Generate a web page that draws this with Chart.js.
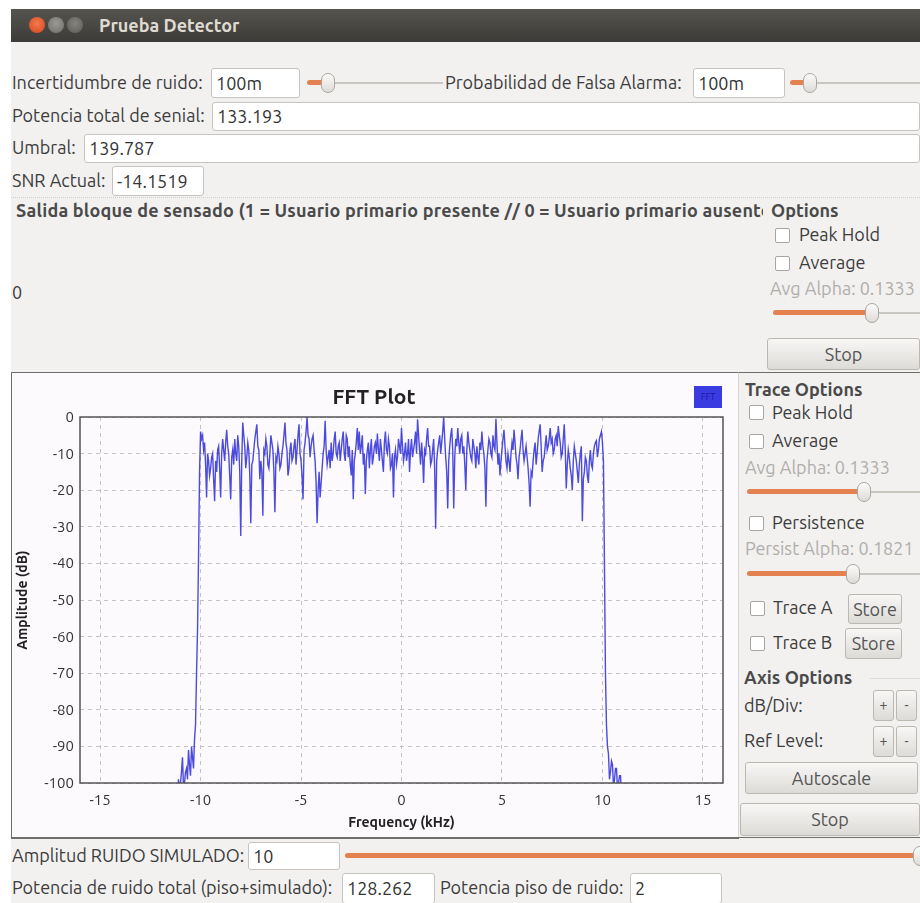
<!DOCTYPE html>
<html>
<head>
<meta charset="utf-8">
<title>Prueba Detector</title>
<script src="https://cdn.jsdelivr.net/npm/chart.js@4.4.1/dist/chart.umd.min.js"></script>
<style>
  html, body { margin: 0; padding: 0; }
  body { width: 920px; height: 903px; position: relative; overflow: hidden; background: #fff;
         font-family: "Ubuntu", "Open Sans", sans-serif; font-size: 18px; color: #3c3c3c; }
  .win { position: absolute; left: 11px; top: 9px; width: 909px; height: 894px; background: #f2f1f0; }
  .titlebar { position: absolute; left: 11px; top: 9px; width: 909px; height: 33px;
              background: linear-gradient(#55544f, #3c3b37); }
  .dot { position: absolute; width: 16px; height: 16px; border-radius: 50%; top: 17px; }
  .ttl { position: absolute; left: 99px; top: 9px; line-height: 33px; font-weight: bold; font-size: 18px; color: #dfdbd2; }
  .lbl { position: absolute; white-space: nowrap; line-height: 1.2; transform: translateY(-50%); }
  .tb { position: absolute; box-sizing: border-box; background: #fff; border: 1px solid #c7c4bf;
        border-radius: 3px; padding-left: 4px; color: #333; white-space: nowrap; }
  .slider { position: absolute; height: 20px; }
  .slider .track { position: absolute; left: 0; right: 0; top: 9px; height: 2px; background: #c9c6c1; }
  .slider .fill { position: absolute; left: 0; top: 7px; height: 5px; border-radius: 3px; background: #e5804f; }
  .slider .thumb { position: absolute; top: 0; width: 14px; height: 20px; margin-left: -7px; box-sizing: border-box;
                   border: 1px solid #aaa6a0; border-radius: 7px; background: linear-gradient(#fbfbfa, #dedcd8); }
  .chk { position: absolute; width: 15px; height: 15px; box-sizing: border-box; background: #fff;
         border: 1px solid #a9a6a1; border-radius: 2px; }
  .btn { position: absolute; box-sizing: border-box; border: 1px solid #bbb8b2; border-radius: 3px;
         background: linear-gradient(#f8f7f6, #dddbd7); text-align: center; color: #555; }
  .bold { font-weight: bold; color: #4a4a4a; }
  .grey { color: #b0aeaa; }
</style>
</head>
<body>
<div class="win"></div>
<div class="titlebar"></div>
<div class="dot" style="left:29px;background:radial-gradient(circle at 50% 40%,#f47a4f,#d2461c);"></div>
<div class="dot" style="left:48px;background:radial-gradient(circle at 50% 40%,#9c9a94,#6e6c67);"></div>
<div class="dot" style="left:67px;background:radial-gradient(circle at 50% 40%,#85837e,#5c5b57);"></div>
<div class="ttl">Prueba Detector</div>

<!-- controls, first rows -->
<div class="lbl" style="left:12px;top:83px;">Incertidumbre de ruido:</div>
<div class="tb" style="left:211px;top:68px;width:89px;height:30px;line-height:28px;">100m</div>
<div class="slider" style="left:307px;top:73px;width:136px;"><div class="track"></div><div class="fill" style="width:18px"></div><div class="thumb" style="left:21px"></div></div>
<div class="lbl" style="left:445px;top:83px;">Probabilidad de Falsa Alarma:</div>
<div class="tb" style="left:693px;top:68px;width:92px;height:30px;line-height:28px;">100m</div>
<div class="slider" style="left:790px;top:73px;width:130px;"><div class="track"></div><div class="fill" style="width:17px"></div><div class="thumb" style="left:20px"></div></div>

<div class="lbl" style="left:12px;top:116px;">Potencia total de senial:</div>
<div class="tb" style="left:212px;top:102px;width:708px;height:29px;line-height:27px;">133.193</div>
<div class="lbl" style="left:12px;top:148px;">Umbral:</div>
<div class="tb" style="left:84px;top:134px;width:836px;height:29px;line-height:27px;">139.787</div>
<div class="lbl" style="left:12px;top:181px;">SNR Actual:</div>
<div class="tb" style="left:112px;top:166px;width:92px;height:30px;line-height:28px;">-14.1519</div>

<!-- sensing output panel -->
<div style="position:absolute;left:11px;top:197px;width:909px;height:0;border-top:1px dotted #d2d0cc;"></div>
<div class="lbl bold" style="left:16px;top:211px;width:747px;overflow:hidden;letter-spacing:0.2px;">Salida bloque de sensado (1 = Usuario primario presente // 0 = Usuario primario ausente)</div>
<div class="lbl" style="left:12px;top:293px;">0</div>
<div class="lbl bold" style="left:771px;top:211px;">Options</div>
<div class="chk" style="left:775px;top:228px;"></div>
<div class="lbl" style="left:799px;top:235px;">Peak Hold</div>
<div class="chk" style="left:775px;top:256px;"></div>
<div class="lbl" style="left:799px;top:263px;">Average</div>
<div class="lbl grey" style="left:770px;top:289px;">Avg Alpha: 0.1333</div>
<div class="slider" style="left:773px;top:303px;width:147px;"><div class="track"></div><div class="fill" style="width:94px"></div><div class="thumb" style="left:99px"></div></div>
<div class="btn" style="left:767px;top:338px;width:153px;height:32px;line-height:30px;">Stop</div>

<!-- FFT panel -->
<div style="position:absolute;left:11px;top:372px;width:727px;height:465px;background:#fdfafd;border:1px solid #6e6d6a;border-right:none;"></div>
<canvas id="fft" width="727" height="464" style="position:absolute;left:11px;top:374px;"></canvas>
<div class="lbl" style="left:374px;top:397px;transform:translate(-50%,-50%);font-weight:bold;font-size:21px;color:#222;">FFT Plot</div>
<div style="position:absolute;left:694px;top:386px;width:28px;height:22px;background:#3b3be2;color:#1a1a9a;font-size:9px;line-height:22px;text-align:center;">FFT</div>

<!-- trace options panel -->
<div style="position:absolute;left:738px;top:372px;width:182px;height:466px;border-top:1px solid #6e6d6a;box-sizing:border-box;border-left:1px solid #d8d6d2;"></div>
<div class="lbl bold" style="left:745px;top:390px;">Trace Options</div>
<div class="chk" style="left:749px;top:405px;"></div>
<div class="lbl" style="left:772px;top:413px;">Peak Hold</div>
<div class="chk" style="left:749px;top:434px;"></div>
<div class="lbl" style="left:772px;top:441px;">Average</div>
<div class="lbl grey" style="left:745px;top:468px;">Avg Alpha: 0.1333</div>
<div class="slider" style="left:747px;top:482px;width:173px;"><div class="track"></div><div class="fill" style="width:112px"></div><div class="thumb" style="left:117px"></div></div>
<div class="chk" style="left:749px;top:516px;"></div>
<div class="lbl" style="left:772px;top:523px;">Persistence</div>
<div class="lbl grey" style="left:745px;top:549px;">Persist Alpha: 0.1821</div>
<div class="slider" style="left:747px;top:564px;width:173px;"><div class="track"></div><div class="fill" style="width:101px"></div><div class="thumb" style="left:106px"></div></div>
<div class="chk" style="left:750px;top:601px;"></div>
<div class="lbl" style="left:773px;top:608px;">Trace A</div>
<div class="btn" style="left:848px;top:594px;width:54px;height:30px;line-height:28px;">Store</div>
<div class="chk" style="left:750px;top:636px;"></div>
<div class="lbl" style="left:773px;top:643px;">Trace B</div>
<div class="btn" style="left:845px;top:628px;width:57px;height:31px;line-height:29px;">Store</div>
<div class="lbl bold" style="left:744px;top:678px;">Axis Options</div>
<div style="position:absolute;left:870px;top:678px;width:50px;border-top:1px solid #dedcd8;"></div>
<div class="lbl" style="left:744px;top:706px;">dB/Div:</div>
<div class="btn" style="left:873px;top:690px;width:21px;height:31px;line-height:29px;font-size:14px;">+</div>
<div class="btn" style="left:896px;top:690px;width:21px;height:31px;line-height:29px;font-size:14px;">-</div>
<div class="lbl" style="left:744px;top:741px;">Ref Level:</div>
<div class="btn" style="left:873px;top:726px;width:21px;height:31px;line-height:29px;font-size:14px;">+</div>
<div class="btn" style="left:896px;top:726px;width:21px;height:31px;line-height:29px;font-size:14px;">-</div>
<div class="btn" style="left:745px;top:762px;width:173px;height:32px;line-height:30px;">Autoscale</div>
<div class="btn" style="left:740px;top:803px;width:180px;height:33px;line-height:31px;">Stop</div>

<!-- bottom rows -->
<div style="position:absolute;left:11px;top:837px;width:909px;border-top:1px solid #6e6d6a;"></div>
<div class="lbl" style="left:12px;top:856px;">Amplitud RUIDO SIMULADO:</div>
<div class="tb" style="left:248px;top:842px;width:92px;height:28px;line-height:26px;">10</div>
<div class="slider" style="left:345px;top:846px;width:590px;"><div class="track"></div><div class="fill" style="width:570px"></div><div class="thumb" style="left:575px"></div></div>
<div class="lbl" style="left:12px;top:888px;">Potencia de ruido total (piso+simulado):</div>
<div class="tb" style="left:342px;top:873px;width:93px;height:31px;line-height:29px;">128.262</div>
<div class="lbl" style="left:440px;top:888px;">Potencia piso de ruido:</div>
<div class="tb" style="left:630px;top:873px;width:92px;height:31px;line-height:29px;">2</div>

<script>
'use strict';

// FFT bins: first bin frequency and spacing (kHz)
const binStartKHz = -11.2;
const binStepKHz  = 0.05;

// amplitude per bin (dB); values under -100 fall below the view
const lowerSkirtDb = [
  -115, -104, -99, -102, -100, -97, -93, -101, -100, -97, -96, -99,
  -91, -95, -98, -90, -93, -96, -88, -84, -70, -58, -38, -15,
];
const passbandDb = [
  -4, -6, -5, -9, -7, -13, -22, -10, -12, -16, -14, -11, -10, -17, -23, -12, -15, -9, -8, -14,
  -22, -10, -6, -9, -12, -7, -3.5, -8, -10, -16, -22.5, -11, -9, -13, -6, -10, -12, -5, -8, -15,
  -32.5, -12, -1.5, -5, -8, -14, -11, -7, -9, -16, -29, -13, -12, -9, -6, -4, -2, -8, -9, -17,
  -12, -15, -27, -9, -10, -6, -8, -13, -14, -10, -5, -7, -9, -15, -26, -11, -12, -8, -10, -14,
  -13, -10, -8, -5, -1.5, -7, -9, -16, -14, -9, -7, -12, -11, -8, -6, -13, -9, -5, -2, -10,
  -12, -16, -22.5, -9, -7, -4, 0, -5, -6, -11, -8, -6, -5, -9, -12, -18, -29, -20, -15, -22,
  -18, -14, -10, -8, -1, -9, -13, -11, -9, -14, -7, -12, -10, -6, -4, -10, -11, -8, -7, -12,
  -9, -6, -4, -10, -12, -5, -6, -11, -8, -13, -16, -9, -22.5, -12, -10, -7, -3, -9, -4, -10,
  -8, -5, -13, -10, -21, -12, -9, -7, -14, -9, -6, -13, -11, -8, -7, -10, -4.5, -9, -12, -6,
  -9, -12, -15, -7, -4, -9, -10, -6, -8, -14, -13, -10, -22, -11, -9, -13, -11, -6, -8, -10,
  -3, -8, -12, -10, -7, -12, -10, -6, -15, -9, -6, -11, -9, -7, -4, -10, -0.6, -5, -9, -13,
  -7, -11, -18, -9, -10, -6, -3, -8, -8, -13, -12, -9, -6, -14, -30.5, -12, -9, -7, -5, -10,
  -7, -4, 0, -6, -11, -15, -25, -12, -8, -5, -3, -9, -25, -11, -6, -8, -3, -7, -10, -6,
  -5, -10, -8, -13, -20, -9, -4, -7, -9, -11, -12, -6, -8, -10, -14, -8, -11, -13, -7, -9,
  -4, -8, -10, -14, -24.5, -12, -9, -6, -7, -10, -11, -5, -8, -9, -0.5, -7, -13, -10, -16, -12,
  -9, -6, -3.5, -8, -12, -14, -10, -12, -15, -10, -7, -9, -3.5, -7, -11, -13, -17, -11, -9, -6,
  -3.5, -9, -12, -10, -8, -11, -14, -18, -24.5, -15, -16, -12, -9, -7, -13, -10, -6, -4, -2, -8,
  -15, -12, -11, -8, -5, -9, -8, -6, -3, -7, -6, -10, -9, -6, -5, -8, -2.5, -5, -7, -11,
  -10, -6, -2, -9, -19.5, -13, -9, -11, -14, -16, -20, -12, -8, -10, -12, -15, -18, -13, -10, -8,
  -28.5, -17, -15, -11, -12, -16, -18, -12, -9, -13, -14, -10, -8, -7, -6.5, -11, -9, -6, -5, -4,
  -7,
];
const upperSkirtDb = [
  -12, -40, -70, -84, -90, -92, -99, -97, -94, -95,
  -101, -99, -96, -96, -102, -100, -98, -98, -104, -115,
];

const xTicks = [-15, -10, -5, 0, 5, 10, 15];
const yTicks = [0, -10, -20, -30, -40, -50, -60, -70, -80, -90, -100];

const amplitudeDb = [...lowerSkirtDb, ...passbandDb, ...upperSkirtDb];
const points = amplitudeDb.map((db, i) => ({ x: +(binStartKHz + i * binStepKHz).toFixed(3), y: db }));

const framePlugin = {
  id: 'frame',
  afterDraw(chart) {
    const { ctx, chartArea: a } = chart;
    ctx.save();
    ctx.strokeStyle = '#555';
    ctx.lineWidth = 1.5;
    ctx.strokeRect(a.left, a.top, a.width, a.height);
    ctx.restore();
  }
};

const tickFont = { family: '"Ubuntu", "Open Sans", sans-serif', size: 15 };
const titleFont = { family: '"Ubuntu", "Open Sans", sans-serif', size: 14, weight: 'bold' };

new Chart(document.getElementById('fft').getContext('2d'), {
  type: 'line',
  data: {
    datasets: [{
      label: 'FFT',
      data: points,
      borderColor: 'rgba(44,44,215,0.85)',
      borderWidth: 1.4,
      pointRadius: 0,
      tension: 0,
      fill: false,
    }],
  },
  options: {
    responsive: false,
    animation: false,
    layout: { padding: { top: 43, right: 15, left: 0, bottom: 0 } },
    plugins: { legend: { display: false }, tooltip: { enabled: false } },
    scales: {
      x: {
        type: 'linear', min: -16, max: 16,
        afterBuildTicks: (s) => { s.ticks = xTicks.map((v) => ({ value: v })); },
        afterFit: (s) => { s.height = 55; },
        grid: { color: '#c4c2c8', drawTicks: false },
        border: { display: false, dash: [4, 4] },
        ticks: { padding: 8, color: '#333', font: tickFont, maxRotation: 0 },
        title: { display: true, text: 'Frequency (kHz)', color: '#222', font: titleFont, padding: { top: 0, bottom: 7 } },
      },
      y: {
        min: -100, max: 0,
        afterBuildTicks: (s) => { s.ticks = yTicks.map((v) => ({ value: v })); },
        afterFit: (s) => { s.width = 69; },
        grid: { color: '#c4c2c8', drawTicks: false },
        border: { display: false, dash: [4, 4] },
        ticks: { padding: 6, color: '#333', font: tickFont },
        title: { display: true, text: 'Amplitude (dB)', color: '#222', font: titleFont, padding: { top: 3, bottom: 0 } },
      },
    },
  },
  plugins: [framePlugin],
});
</script>
</body>
</html>
